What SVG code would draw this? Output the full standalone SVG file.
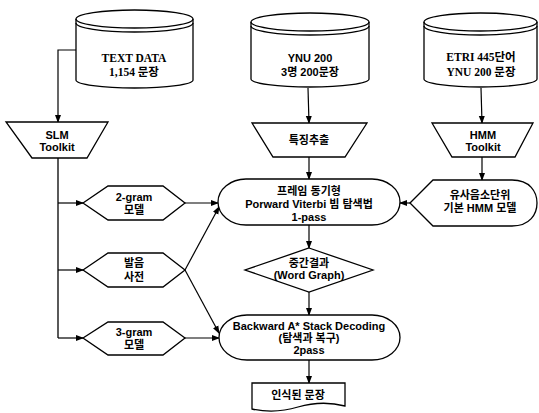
<svg xmlns="http://www.w3.org/2000/svg" width="539" height="413" viewBox="0 0 539 413">
<style>
.s{fill:#fff;stroke:#000;stroke-width:1.3}
.n{fill:none;stroke:#000;stroke-width:1.3}
.c{fill:none;stroke:#000;stroke-width:1.2;marker-end:url(#ah)}
text{font-family:"Liberation Sans","Noto Sans CJK KR",sans-serif;font-size:11px;font-weight:bold;text-anchor:middle;fill:#000}
.sf{font-family:"Liberation Serif","Noto Sans CJK KR",serif;font-size:11.5px}
</style>
<defs>
<marker id="ah" markerWidth="8" markerHeight="8" refX="7" refY="4" orient="auto" markerUnits="userSpaceOnUse">
<path d="M0,1 L8,4 L0,7 Z" fill="#000"/>
</marker>
</defs>
<rect width="539" height="413" fill="#fff"/>
<g id="connectors">
<path class="c" d="M77,50 L58,50 L58,122"/>
<path class="n" d="M58,158 L58,338"/>
<path class="c" d="M58,203 L83,203"/>
<path class="c" d="M58,270 L83,270"/>
<path class="c" d="M58,338 L83,338"/>
<path class="c" d="M308,88 L309,123"/>
<path class="c" d="M481,88 L482,123"/>
<path class="c" d="M309,157 L309,179"/>
<path class="c" d="M482,157 L482,180"/>
<path class="c" d="M410,203 L400,203"/>
<path class="c" d="M185,203 L218,203"/>
<path class="c" d="M185,270 L219,207"/>
<path class="c" d="M185,270 L219,333"/>
<path class="c" d="M185,338 L219,338"/>
<path class="c" d="M309,225 L309,248"/>
<path class="c" d="M309,292 L309,315"/>
<path class="c" d="M309,360 L309,383"/>
</g>
<g id="textdata">
<path class="s" d="M76,19 A58.5,9 0 0 1 193,19 L193,80 A58.5,8 0 0 1 76,80 Z"/>
<path class="n" d="M76,19 A58.5,9 0 0 0 193,19 M76,23 A58.5,9 0 0 0 193,23"/>
<text class="sf" x="134" y="62">TEXT DATA</text>
<text class="sf" x="134" y="76">1,154 문장</text>
</g>
<g id="ynu200">
<path class="s" d="M251,22 A59,9 0 0 1 369,22 L369,79 A59,8 0 0 1 251,79 Z"/>
<path class="n" d="M251,22 A59,9 0 0 0 369,22 M251,26 A59,9 0 0 0 369,26"/>
<text x="310" y="62">YNU 200</text>
<text x="310" y="76">3명 200문장</text>
</g>
<g id="etri">
<path class="s" d="M424,22 A56.5,9 0 0 1 537,22 L537,79 A56.5,8 0 0 1 424,79 Z"/>
<path class="n" d="M424,22 A56.5,9 0 0 0 537,22 M424,26 A56.5,9 0 0 0 537,26"/>
<text class="sf" x="481" y="61">ETRI 445단어</text>
<text class="sf" x="481" y="76">YNU 200 문장</text>
</g>
<g id="slm">
<path class="s" d="M6,122 L108,122 L87,158 L32,158 Z"/>
<text x="57" y="139">SLM</text>
<text x="57" y="151">Toolkit</text>
</g>
<g id="feature">
<path class="s" d="M252,123 L367,123 L345,157 L273,157 Z"/>
<text x="309" y="144">특징추출</text>
</g>
<g id="hmmtoolkit">
<path class="s" d="M432,123 L533,123 L515,157 L452,157 Z"/>
<text x="483" y="139">HMM</text>
<text x="483" y="151">Toolkit</text>
</g>
<g id="bigram">
<path class="s" d="M83,203 L108,186 L163,186 L185,203 L163,220 L108,220 Z"/>
<text x="134" y="201">2-gram</text>
<text x="134" y="214">모델</text>
</g>
<g id="dict">
<path class="s" d="M83,270 L108,253 L163,253 L185,270 L163,287 L108,287 Z"/>
<text x="134" y="267">발음</text>
<text x="134" y="281">사전</text>
</g>
<g id="trigram">
<path class="s" d="M83,338 L108,322 L163,322 L185,338 L163,355 L108,355 Z"/>
<text x="134" y="336">3-gram</text>
<text x="134" y="349">모델</text>
</g>
<g id="forward">
<rect class="s" x="218" y="179" width="182" height="46" rx="28" ry="23"/>
<text x="309" y="195">프레임 동기형</text>
<text x="309" y="208">Porward Viterbi 빔 탐색법</text>
<text x="309" y="221">1-pass</text>
</g>
<g id="hmmmodel">
<path class="s" d="M410,203 L433,180 L512,180 C530,180 537,192 537,203 C537,214 530,226 512,226 L433,226 Z"/>
<text x="480" y="199">유사음소단위</text>
<text x="480" y="212">기본 HMM 모델</text>
</g>
<g id="wordgraph">
<path class="s" d="M309,248 L373,270 L309,292 L245,270 Z"/>
<text x="309" y="267">중간결과</text>
<text x="309" y="279">(Word Graph)</text>
</g>
<g id="backward">
<rect class="s" x="219" y="315" width="181" height="45" rx="28" ry="22.5"/>
<text x="309" y="330">Backward A* Stack Decoding</text>
<text x="309" y="342">(탐색과 복구)</text>
<text x="309" y="354">2pass</text>
</g>
<g id="result">
<path class="s" d="M252,383 L345,383 L345,406 Q322,400 298,407 Q275,414 252,409 Z"/>
<text x="298" y="399">인식된 문장</text>
</g>
</svg>
